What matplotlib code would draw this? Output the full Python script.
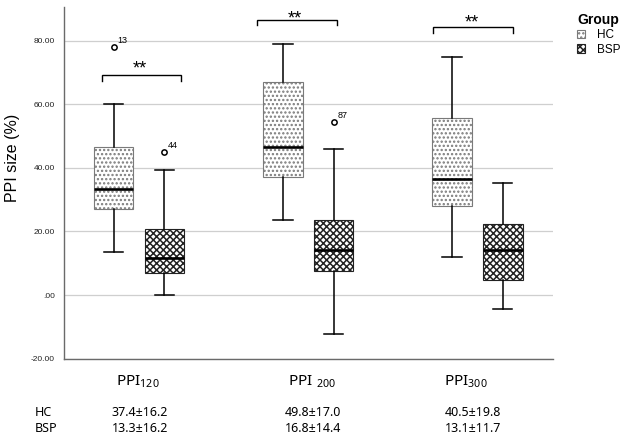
import matplotlib
matplotlib.use("Agg")
import matplotlib.pyplot as plt
from matplotlib.patches import Patch
from matplotlib.ticker import FuncFormatter, MultipleLocator

# ---------------- data ----------------
conditions = ["PPI120", "PPI200", "PPI300"]
groups = ["HC", "BSP"]

hc_whislo = [13.4, 23.6, 12.0]
hc_q1 = [27.2, 37.0, 27.9]
hc_med = [33.3, 46.6, 36.5]
hc_q3 = [46.5, 67.0, 55.8]
hc_whishi = [60.2, 79.0, 74.8]
hc_fliers = [[78.0], [], []]
hc_flier_ids = [["13"], [], []]

bsp_whislo = [0.0, -12.3, -4.4]
bsp_q1 = [7.0, 7.4, 4.7]
bsp_med = [11.5, 14.2, 14.3]
bsp_q3 = [20.9, 23.7, 22.2]
bsp_whishi = [39.4, 45.9, 35.2]
bsp_fliers = [[44.9], [54.3], []]
bsp_flier_ids = [["44"], ["87"], []]

hc_mean_sd = ["37.4±16.2", "49.8±17.0", "40.5±19.8"]
bsp_mean_sd = ["13.3±16.2", "16.8±14.4", "13.1±11.7"]
sig_labels = ["**", "**", "**"]

# ---------------- style ----------------
plt.rcParams["font.family"] = ["Liberation Sans", "DejaVu Sans"]
plt.rcParams["hatch.linewidth"] = 1.1
plt.rcParams["mathtext.fontset"] = "custom"
plt.rcParams["mathtext.rm"] = "Noto Sans"
plt.rcParams["mathtext.it"] = "Noto Sans:italic"
plt.rcParams["mathtext.bf"] = "Noto Sans:bold"
BOTTOM_FONT = ["Noto Sans", "DejaVu Sans"]
HC_HATCH = "...."
BSP_HATCH = "xxxxx"

fig = plt.figure(figsize=(6.24, 4.38), dpi=100)
ax = fig.add_axes([64 / 624, 1 - 358.6 / 438, (552.7 - 64) / 624, (358.6 - 7) / 438])

offset = 0.15
box_w = 0.233
cap_w = 0.114


def stats(whislo, q1, med, q3, whishi, fliers):
    return [dict(whislo=a, q1=b, med=c, q3=d, whishi=e, fliers=f)
            for a, b, c, d, e, f in zip(whislo, q1, med, q3, whishi, fliers)]


hc_stats = stats(hc_whislo, hc_q1, hc_med, hc_q3, hc_whishi, hc_fliers)
bsp_stats = stats(bsp_whislo, bsp_q1, bsp_med, bsp_q3, bsp_whishi, bsp_fliers)

n = len(conditions)
hc_pos = [i - offset for i in range(n)]
bsp_pos = [i + offset for i in range(n)]

common = dict(widths=box_w, capwidths=cap_w, patch_artist=True, showfliers=True,
              whiskerprops=dict(color="black", lw=1.1),
              capprops=dict(color="black", lw=1.1),
              medianprops=dict(color="black", lw=1.9),
              flierprops=dict(marker="o", markersize=3.8, markerfacecolor="white",
                              markeredgecolor="black", markeredgewidth=1.1))

b1 = ax.bxp(hc_stats, positions=hc_pos, **common)
for p in b1["boxes"]:
    p.set_facecolor("white")
    p.set_edgecolor("#7a7a7a")
    p.set_hatch(HC_HATCH)
    p.set_linewidth(0.8)
b2 = ax.bxp(bsp_stats, positions=bsp_pos, **common)
for p in b2["boxes"]:
    p.set_facecolor("white")
    p.set_edgecolor("#222222")
    p.set_hatch(BSP_HATCH)
    p.set_linewidth(0.8)

for pos, fl, ids in list(zip(hc_pos, hc_fliers, hc_flier_ids)) + list(zip(bsp_pos, bsp_fliers, bsp_flier_ids)):
    for v, lab in zip(fl, ids):
        ax.annotate(lab, (pos, v), xytext=(2.6, 4.8), textcoords="offset points",
                    ha="left", va="center", fontsize=6.5)

# significance brackets: x0, x1, top, tick end, star baseline
brackets = [(-0.22, 0.248, 69.2, 67.4, 69.6),
            (0.696, 1.168, 86.5, 84.9, 85.3),
            (1.74, 2.213, 84.4, 82.5, 84.0)]
for (x0, x1, ytop, ylow, ystar), lab in zip(brackets, sig_labels):
    ax.plot([x0, x0, x1, x1], [ylow, ytop, ytop, ylow], color="black", lw=1.0,
            clip_on=False, solid_joinstyle="miter")
    ax.text((x0 + x1) / 2 - 0.01, ystar, lab, ha="center", va="baseline", fontsize=13)

ax.set_xlim(-0.4437, 2.445)
ax.set_ylim(-20, 90.6)
ax.yaxis.set_major_locator(MultipleLocator(20))


def fmt(v, _):
    s = f"{v:.2f}"
    if s.startswith("0."):
        s = s[1:]
    return s


ax.yaxis.set_major_formatter(FuncFormatter(fmt))
ax.set_xticks([])
ax.tick_params(axis="y", length=0, pad=6.5, labelsize=6, labelcolor="#222222")
ax.grid(axis="y", color="#cfcfcf", lw=0.9)
ax.set_axisbelow(True)
for s in ["top", "right"]:
    ax.spines[s].set_visible(False)
for s in ["left", "bottom"]:
    ax.spines[s].set_color("#6a6a6a")
    ax.spines[s].set_linewidth(1.0)

ax.set_ylabel("PPI size (%)", fontsize=11.5)
ax.yaxis.set_label_coords(-0.090, 0.572)

# legend
handles = [Patch(facecolor="white", edgecolor="#7a7a7a", hatch=HC_HATCH, lw=0.8, label=groups[0]),
           Patch(facecolor="white", edgecolor="#222222", hatch=BSP_HATCH, lw=0.8, label=groups[1])]
leg = ax.legend(handles=handles, title="Group", loc="upper left",
                bbox_to_anchor=(577 / 624, 1 - 13 / 438), bbox_transform=fig.transFigure,
                frameon=False, fontsize=8.5, handlelength=0.7, handleheight=0.7,
                handletextpad=1.0, labelspacing=0.2, borderpad=0, borderaxespad=0,
                title_fontproperties=dict(weight="bold", size=10))
leg._legend_box.align = "left"

# bottom labels
sub_labels = [r"$\mathrm{PPI}_{\mathrm{120}}$", r"$\mathrm{PPI}\ _{\mathrm{200}}$", r"$\mathrm{PPI}_{\mathrm{300}}$"]
label_x = [138, 312.5, 465.5]
col_x = [140, 313.3, 473.3]
for lab, x in zip(sub_labels, label_x):
    fig.text(x / 624, 1 - 382 / 438, lab, ha="center", va="center", fontsize=11, family=BOTTOM_FONT)
fig.text(35 / 624, 1 - 412 / 438, groups[0], ha="left", va="center", fontsize=9, family=BOTTOM_FONT)
fig.text(35 / 624, 1 - 429 / 438, groups[1], ha="left", va="center", fontsize=9, family=BOTTOM_FONT)
for x, a, b in zip(col_x, hc_mean_sd, bsp_mean_sd):
    fig.text(x / 624, 1 - 412 / 438, a, ha="center", va="center", fontsize=9, family=BOTTOM_FONT)
    fig.text(x / 624, 1 - 429 / 438, b, ha="center", va="center", fontsize=9, family=BOTTOM_FONT)

fig.savefig("out.png", dpi=100)
